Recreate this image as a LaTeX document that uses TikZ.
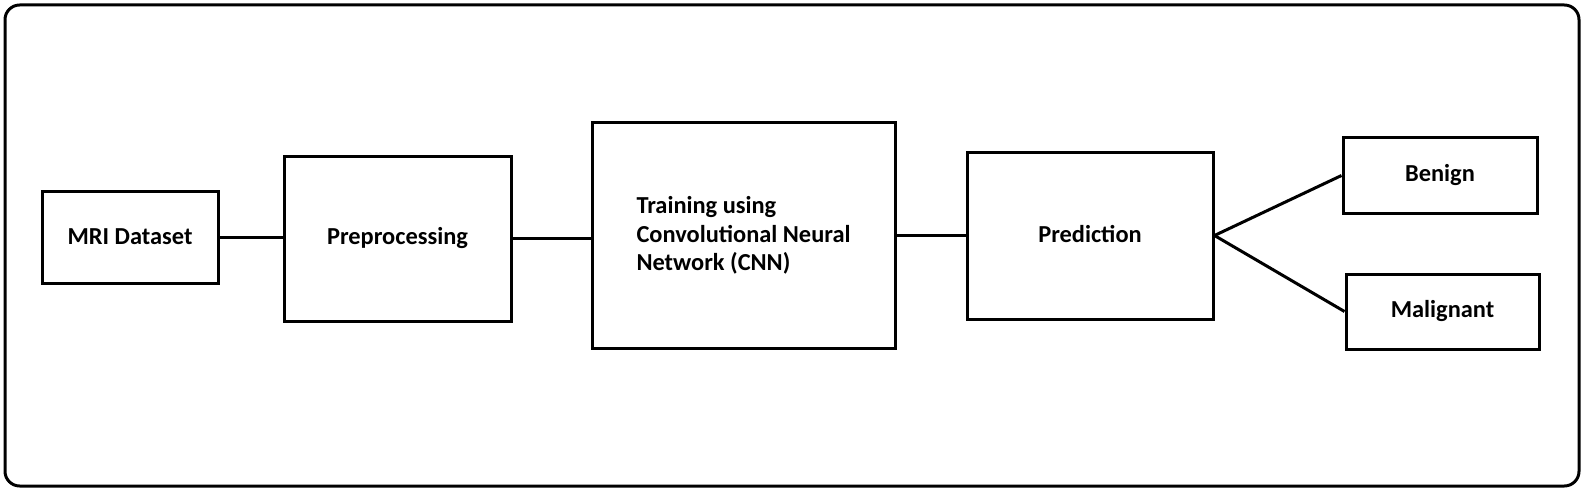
\documentclass[tikz,border=0pt]{standalone}
\usepackage{fontspec}
\setmainfont{Carlito}
\usetikzlibrary{positioning}

\begin{document}
\begin{tikzpicture}[x=0.75pt,y=-0.75pt,
  line width=2.25pt,
  block/.style={draw, line width=2.25pt, font=\fontsize{18.3}{21.5}\selectfont\bfseries, inner sep=0pt}]

 \useasboundingbox (0,0) rectangle (1586,492);
 \draw[rounded corners=11pt] (5,5) rectangle (1579,486);

 \node(mri)[block, minimum width=132pt, minimum height=69pt] at (130,237) {MRI Dataset};
 \node(pre)[block, minimum width=170.25pt, minimum height=123.75pt] at (397.5,238.5) {Preprocessing};
 \node(cnn)[block, minimum width=227.25pt, minimum height=168.75pt, align=left] at (743.5,235.5)
   {Training using\\Convolutional Neural\\Network (CNN)};
 \node(pred)[block, minimum width=184.5pt, minimum height=125.25pt] at (1090,235.5) {\raisebox{3pt}{Prediction}};
 \node(ben)[block, minimum width=145.5pt, minimum height=56.25pt] at (1440,175.5) {Benign};
 \node(mal)[block, minimum width=144.75pt, minimum height=56.25pt] at (1442.5,311.5) {Malignant};

 \draw (mri.east) -- (mri.east -| pre.west);
 \draw (pre.east) -- (pre.east -| cnn.west);
 \draw (cnn.east) -- (cnn.east -| pred.west);
 \draw (pred.east) -- (ben.west);
 \draw (pred.east) -- (mal.west);

\end{tikzpicture}
\end{document}
